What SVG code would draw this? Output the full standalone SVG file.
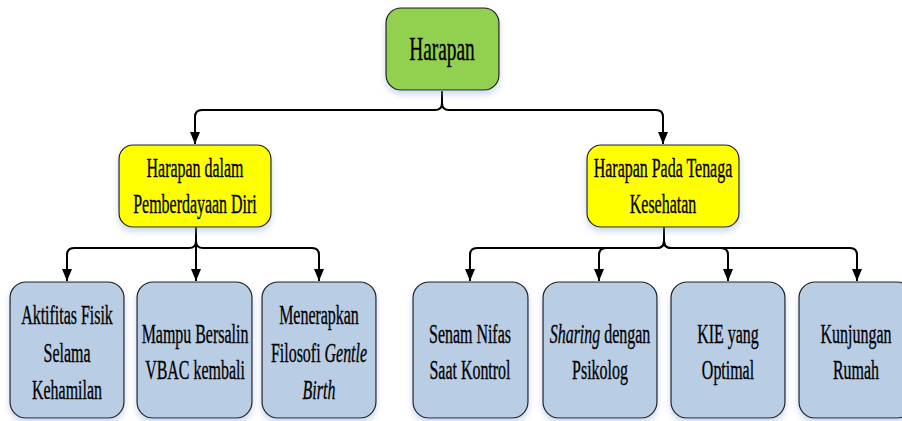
<svg xmlns="http://www.w3.org/2000/svg" width="902" height="421" viewBox="0 0 902 421">
<defs>
<style>
.box{stroke:#1a1a1a;stroke-width:1.2}
.root{fill:#92D050}
.mid{fill:#FFFF00}
.leaf{fill:#B9CDE5}
text{font-family:'Liberation Serif',serif;font-size:28px;fill:#000;stroke:#000;stroke-width:0.35;text-anchor:middle}
.tr{font-size:34px}
.c{fill:none;stroke:#000;stroke-width:2}
</style>
<filter id="sh" x="-20%" y="-20%" width="140%" height="150%">
<feDropShadow dx="0" dy="4" stdDeviation="3" flood-color="#8FA9D4" flood-opacity="0.45"/>
</filter>
<marker id="ah" markerUnits="userSpaceOnUse" markerWidth="12" markerHeight="14" refX="12" refY="5" orient="auto" viewBox="0 0 12 10">
<path d="M0,0 L12,5 L0,10 Z" fill="#000"/>
</marker>
</defs>

<g id="connectors">
<path class="c" d="M442,91 V103 Q442,110 435,110 H202 Q195,110 195,117 V144" marker-end="url(#ah)"/>
<path class="c" d="M442,91 V103 Q442,110 449,110 H656 Q663,110 663,117 V144" marker-end="url(#ah)"/>
<path class="c" d="M196,227 V241 Q196,248 189,248 H74 Q67,248 67,255 V281" marker-end="url(#ah)"/>
<path class="c" d="M196,227 V281" marker-end="url(#ah)"/>
<path class="c" d="M196,227 V241 Q196,248 203,248 H312 Q319,248 319,255 V281" marker-end="url(#ah)"/>
<path class="c" d="M664,227 V241 Q664,248 657,248 H477 Q470,248 470,255 V281" marker-end="url(#ah)"/>
<path class="c" d="M664,241 Q664,248 657,248 H606 Q599,248 599,255 V281" marker-end="url(#ah)"/>
<path class="c" d="M664,227 V241 Q664,248 671,248 H721 Q728,248 728,255 V281" marker-end="url(#ah)"/>
<path class="c" d="M664,241 Q664,248 671,248 H850 Q857,248 857,255 V281" marker-end="url(#ah)"/>
</g>

<g id="n-harapan">
<rect class="box root" filter="url(#sh)" x="386" y="8" width="113" height="82" rx="15"/>
<text class="tr" transform="translate(442,0) scale(0.57,1)" x="0" y="60">Harapan</text>
</g>

<g id="n-diri">
<rect class="box mid" filter="url(#sh)" x="119" y="145" width="152" height="82" rx="14"/>
<text transform="translate(195,0) scale(0.57,1)" x="0" y="177">Harapan dalam</text>
<text transform="translate(195,0) scale(0.57,1)" x="0" y="213">Pemberdayaan Diri</text>
</g>

<g id="n-tenaga">
<rect class="box mid" filter="url(#sh)" x="587" y="145" width="152" height="82" rx="14"/>
<text transform="translate(663,0) scale(0.57,1)" x="0" y="177">Harapan Pada Tenaga</text>
<text transform="translate(663,0) scale(0.57,1)" x="0" y="213">Kesehatan</text>
</g>

<g id="n-aktifitas">
<rect class="box leaf" filter="url(#sh)" x="10" y="282" width="114" height="136" rx="16"/>
<text transform="translate(67,0) scale(0.57,1)" x="0" y="324">Aktifitas Fisik</text>
<text transform="translate(67,0) scale(0.57,1)" x="0" y="362">Selama</text>
<text transform="translate(67,0) scale(0.57,1)" x="0" y="399">Kehamilan</text>
</g>

<g id="n-vbac">
<rect class="box leaf" filter="url(#sh)" x="137" y="282" width="115" height="136" rx="16"/>
<text transform="translate(195,0) scale(0.57,1)" x="0" y="343">Mampu Bersalin</text>
<text transform="translate(195,0) scale(0.57,1)" x="0" y="379">VBAC kembali</text>
</g>

<g id="n-gentle">
<rect class="box leaf" filter="url(#sh)" x="262" y="282" width="114" height="136" rx="16"/>
<text transform="translate(319,0) scale(0.57,1)" x="0" y="324">Menerapkan</text>
<text transform="translate(319,0) scale(0.57,1)" x="0" y="362">Filosofi <tspan font-style="italic">Gentle</tspan></text>
<text transform="translate(319,0) scale(0.57,1)" x="0" y="399" font-style="italic">Birth</text>
</g>

<g id="n-senam">
<rect class="box leaf" filter="url(#sh)" x="413" y="282" width="115" height="136" rx="16"/>
<text transform="translate(470,0) scale(0.57,1)" x="0" y="343">Senam Nifas</text>
<text transform="translate(470,0) scale(0.57,1)" x="0" y="379">Saat Kontrol</text>
</g>

<g id="n-sharing">
<rect class="box leaf" filter="url(#sh)" x="543" y="282" width="114" height="136" rx="16"/>
<text transform="translate(600,0) scale(0.57,1)" x="0" y="343"><tspan font-style="italic">Sharing</tspan> dengan</text>
<text transform="translate(600,0) scale(0.57,1)" x="0" y="379">Psikolog</text>
</g>

<g id="n-kie">
<rect class="box leaf" filter="url(#sh)" x="671" y="282" width="114" height="136" rx="16"/>
<text transform="translate(728,0) scale(0.57,1)" x="0" y="343">KIE yang</text>
<text transform="translate(728,0) scale(0.57,1)" x="0" y="379">Optimal</text>
</g>

<g id="n-kunjungan">
<rect class="box leaf" filter="url(#sh)" x="799" y="282" width="114" height="136" rx="16"/>
<text transform="translate(856,0) scale(0.57,1)" x="0" y="343">Kunjungan</text>
<text transform="translate(856,0) scale(0.57,1)" x="0" y="379">Rumah</text>
</g>
</svg>
